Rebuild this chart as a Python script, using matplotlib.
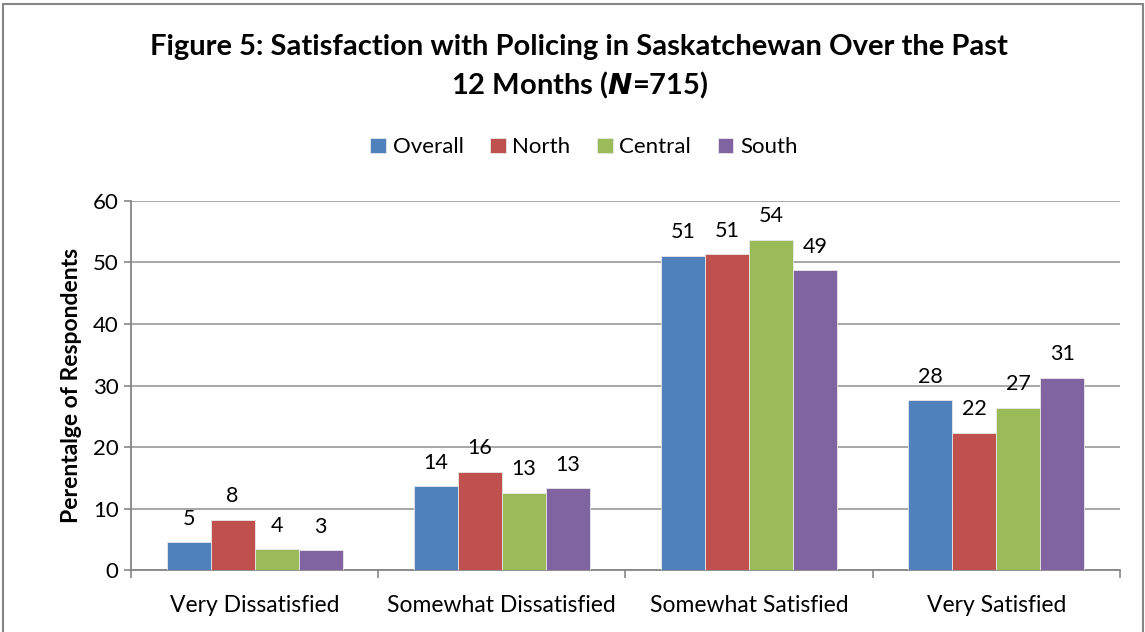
import numpy as np
import matplotlib
matplotlib.use("Agg")
import matplotlib.pyplot as plt
from matplotlib.patches import Rectangle

categories = ["Very Dissatisfied", "Somewhat Dissatisfied", "Somewhat Satisfied", "Very Satisfied"]
series = ["Overall", "North", "Central", "South"]
overall = [4.5, 13.6, 51.1, 27.6]
north = [8.2, 16.0, 51.3, 22.3]
central = [3.4, 12.6, 53.7, 26.4]
south = [3.2, 13.3, 48.7, 31.3]
labels = [["5", "14", "51", "28"],
          ["8", "16", "51", "22"],
          ["4", "13", "54", "27"],
          ["3", "13", "49", "31"]]
colors = ["#4F81BD", "#C0504D", "#9BBB59", "#8064A2"]

plt.rcParams["font.family"] = ["Lato", "DejaVu Sans"]

fig = plt.figure(figsize=(11.45, 6.32), dpi=100)
ax = fig.add_axes([0.1144, 0.098, 0.8636, 0.584])

values = [overall, north, central, south]
x = np.arange(len(categories))
w = 0.178
for i, (name, vals) in enumerate(zip(series, values)):
    pos = x + (i - 1.5) * w
    ax.bar(pos, vals, w, color=colors[i], label=name, edgecolor="#e8e8e8", linewidth=0.6, zorder=3)
    for p, v, t in zip(pos, vals, labels[i]):
        ax.annotate(t, (p, v), xytext=(0, 17), textcoords="offset points",
                    ha="center", va="center", fontsize=15.5, color="black")

ax.set_xlim(-0.5, 3.5)
ax.set_ylim(0, 60)
ax.set_yticks(range(0, 61, 10))
ax.tick_params(axis="y", labelsize=16, length=5, color="#868686", width=1.2, pad=4)
ax.set_xticks(x)
ax.set_xticklabels(categories, fontsize=16.5)
ax.tick_params(axis="x", length=0, pad=18)
ax.set_xticks(np.arange(-0.5, 4.0, 1.0), minor=True)
ax.tick_params(axis="x", which="minor", length=6, color="#868686", width=1.2)
ax.grid(axis="y", color="#a0a0a0", linewidth=1.3, zorder=0)
for s in ["top", "right"]:
    ax.spines[s].set_visible(False)
for s in ["left", "bottom"]:
    ax.spines[s].set_color("#868686")
    ax.spines[s].set_linewidth(1.3)
ax.set_ylabel("Perentalge of Respondents", fontsize=16.5, fontweight="bold", labelpad=8)

fig.text(0.506, 0.925, "Figure 5: Satisfaction with Policing in Saskatchewan Over the Past",
         ha="center", va="center", fontsize=21, fontweight="bold")
fig.text(0.506, 0.864, "12 Months ($\\boldsymbol{N}$=715)", ha="center", va="center",
         fontsize=21, fontweight="bold")

fig.legend(loc="center", bbox_to_anchor=(0.51, 0.767), ncol=4, frameon=False, fontsize=16,
           handlelength=0.7, handleheight=0.7, handletextpad=0.3, columnspacing=1.2)

fig.patches.append(Rectangle((0.003, -0.01), 0.995, 1.003, transform=fig.transFigure,
                             fill=False, edgecolor="#868686", linewidth=1.5))

plt.savefig("out.png", dpi=100)
